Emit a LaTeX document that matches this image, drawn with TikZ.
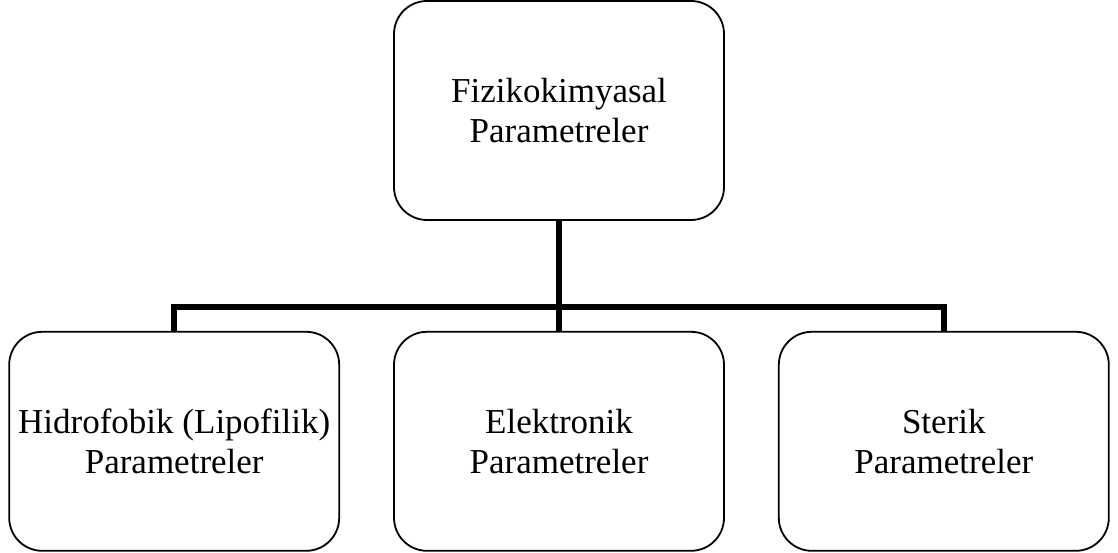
\documentclass[tikz,border=0pt]{standalone}
\usepackage{fontspec}
\setmainfont{Liberation Serif}
\usepackage{tikz}
\usetikzlibrary{positioning, calc}
\tikzset{
  kutu/.style={rectangle, draw=black, fill=white, minimum width=330pt,
    minimum height=219pt, align=center, rounded corners=33pt,
    line width=1.8pt, font=\fontsize{35}{40}\selectfont, inner sep=0pt},
  baglanti/.style={line width=6pt, color=black}
}
\begin{document}
\begin{tikzpicture}
  \useasboundingbox (0,0) rectangle (1118pt,-553pt);

  % Ust kutu
  \node[kutu] (fizik) at (559pt,-110.5pt) {Fizikokimyasal\\Parametreler};

  % Alt kutular
  \node[kutu, below=110pt of fizik] (elek) {Elektronik\\Parametreler};
  \node[kutu, left=53pt of elek] (hidro) {Hidrofobik (Lipofilik)\\Parametreler};
  \node[kutu, right=53pt of elek] (sterik) {Sterik\\Parametreler};

  % Baglantilar
  \coordinate (kol) at ($(elek.north)+(0,24pt)$);
  \draw[baglanti] (fizik.south) -- (elek.north);
  \draw[baglanti] (hidro.north) |- (kol) -| (sterik.north);
\end{tikzpicture}
\end{document}
